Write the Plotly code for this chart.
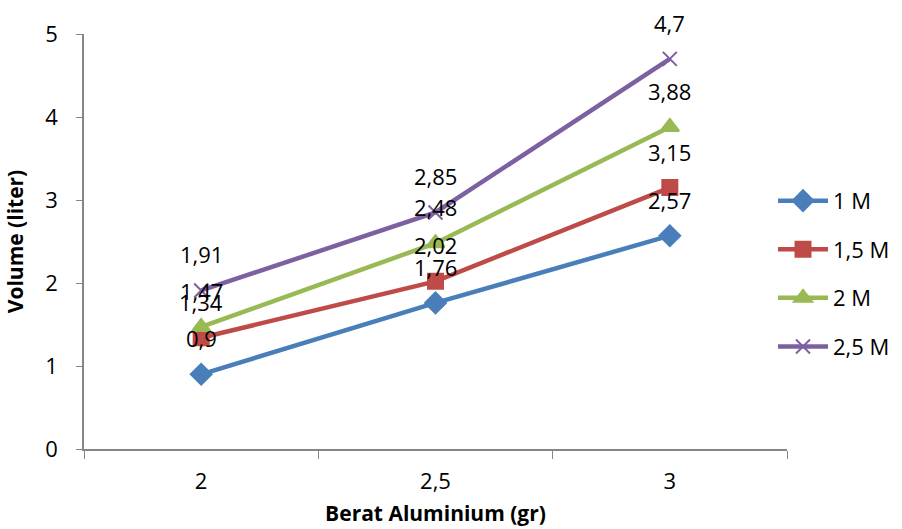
import plotly.graph_objects as go

# Aluminium weight (gr) on the x axis, gas volume (liter) per NaOH concentration
berat = ["2", "2,5", "3"]
vol_1m = [0.9, 1.76, 2.57]
vol_15m = [1.34, 2.02, 3.15]
vol_2m = [1.47, 2.48, 3.88]
vol_25m = [1.91, 2.85, 4.7]

series = [
    ("1 M", vol_1m, "#4A7EBB", "diamond", 16),
    ("1,5 M", vol_15m, "#BE4B48", "square", 15),
    ("2 M", vol_2m, "#98B954", "triangle-up", 16),
    ("2,5 M", vol_25m, "#7D60A0", "x-thin", 14),
]

FONT = "Open Sans"
NUM_SIZE = 22
TITLE_SIZE = 21

fig = go.Figure()

for i, (name, vals, color, symbol, size) in enumerate(series):
    fig.add_trace(go.Scatter(
        x=berat, y=vals, name=name, mode="lines+markers",
        line=dict(color=color, width=4.5),
        marker=dict(symbol=symbol, size=size, color=color,
                    line=dict(color=color, width=2)),
        legendgroup=f"g{i}", cliponaxis=False,
    ))
    # value labels above each point (category axis -> use the category index)
    for j, yv in enumerate(vals):
        fig.add_annotation(
            x=j, y=yv, xref="x", yref="y", text=f"{yv:g}".replace(".", ","),
            showarrow=False, yshift=36, xanchor="center", yanchor="middle",
            font=dict(family=FONT, size=NUM_SIZE, color="#000000"),
        )

fig.update_layout(
    width=902, height=529,
    margin=dict(l=84, r=115, t=34, b=80, autoexpand=False),
    paper_bgcolor="white", plot_bgcolor="white",
    font=dict(family=FONT, size=NUM_SIZE, color="#000000"),
    showlegend=True,
    legend=dict(
        xref="container", yref="container", x=0.857, y=0.66,
        xanchor="left", yanchor="top", tracegroupgap=17,
        font=dict(family=FONT, size=NUM_SIZE), itemwidth=50,
        bgcolor="rgba(0,0,0,0)",
    ),
    xaxis=dict(
        type="category", range=[-0.5, 2.5], tickson="boundaries",
        ticks="outside", ticklen=8, tickcolor="#868686",
        showline=True, linecolor="#868686", linewidth=1.5,
        showgrid=False, zeroline=False, ticklabelstandoff=12,
        tickfont=dict(family=FONT, size=NUM_SIZE),
        title=dict(text="<b>Berat Aluminium (gr)</b>", standoff=12,
                   font=dict(family=FONT, size=TITLE_SIZE)),
    ),
    yaxis=dict(
        range=[0, 5], dtick=1, ticks="outside", ticklen=6,
        tickcolor="#868686", showline=True, linecolor="#868686",
        linewidth=1.5, showgrid=False, zeroline=False, ticklabelstandoff=14,
        tickfont=dict(family=FONT, size=NUM_SIZE),
        title=dict(text="<b>Volume (liter)</b>", standoff=16,
                   font=dict(family=FONT, size=TITLE_SIZE)),
    ),
)

fig.write_html("out.html")
